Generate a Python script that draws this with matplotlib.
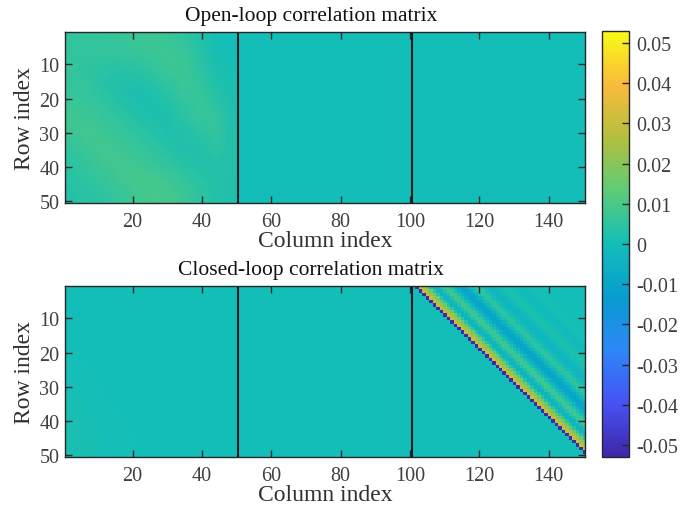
import numpy as np
import matplotlib
matplotlib.use("Agg")
import matplotlib.pyplot as plt
from matplotlib.colors import LinearSegmentedColormap

plt.rcParams['font.family'] = ['Liberation Serif', 'DejaVu Serif']
plt.rcParams['axes.unicode_minus'] = False

parula = LinearSegmentedColormap.from_list("parula", [
    (0.2422, 0.1504, 0.6603), (0.2810, 0.3228, 0.9579), (0.1786, 0.5289, 0.9682),
    (0.0265, 0.6137, 0.8135), (0.0704, 0.7457, 0.7258), (0.3633, 0.8000, 0.4700),
    (0.7000, 0.7500, 0.2400), (0.9800, 0.7300, 0.2400), (0.9769, 0.9839, 0.0805)])

n_rows = 50
n_cols = 150
background = 0.0003
color_limit = 0.053
cbar_ticks = [0.05, 0.04, 0.03, 0.02, 0.01, 0, -0.01, -0.02, -0.03, -0.04, -0.05]
cbar_labels = ['0.05', '0.04', '0.03', '0.02', '0.01', '0', '-0.01', '-0.02', '-0.03', '-0.04', '-0.05']

# open loop, first block, read on a coarse grid (rows down, columns across)
open_block = [
    [.0055, .0055, .0060, .0065, .0070, .0075, .0070, .0055, .0030, .0008, .0003],
    [.0055, .0055, .0055, .0055, .0060, .0070, .0080, .0070, .0040, .0012, .0005],
    [.0055, .0050, .0040, .0036, .0040, .0050, .0070, .0075, .0050, .0022, .0010],
    [.0060, .0055, .0036, .0025, .0022, .0030, .0050, .0070, .0060, .0030, .0015],
    [.0068, .0062, .0050, .0032, .0020, .0018, .0030, .0055, .0068, .0045, .0020],
    [.0080, .0075, .0062, .0050, .0032, .0020, .0022, .0040, .0062, .0060, .0025],
    [.0075, .0085, .0075, .0062, .0050, .0035, .0022, .0026, .0045, .0055, .0030],
    [.0058, .0075, .0085, .0075, .0066, .0050, .0036, .0025, .0028, .0045, .0032],
    [.0045, .0062, .0080, .0088, .0080, .0066, .0054, .0036, .0028, .0032, .0032],
    [.0040, .0050, .0062, .0080, .0092, .0090, .0076, .0058, .0040, .0032, .0028],
    [.0036, .0040, .0050, .0062, .0080, .0092, .0090, .0072, .0050, .0032, .0024],
]

# closed loop, first block, faint corner at lower left
closed_block = [
    [.0003, .0003, .0003, .0003, .0003, .0003],
    [.0003, .0003, .0003, .0003, .0003, .0003],
    [.0004, .0003, .0003, .0003, .0003, .0003],
    [.0006, .0003, .0003, .0003, .0003, .0003],
    [.0012, .0005, .0003, .0003, .0003, .0003],
    [.0014, .0006, .0004, .0004, .0004, .0004],
]

# closed loop, third block, value by distance above the main diagonal
lag_values = [0.0003, -0.052, 0.030, 0.024, 0.015, 0.004, -0.004, -0.003, 0.003, 0.008,
              0.007, 0.002, -0.004, -0.009, -0.010, -0.008, -0.003, 0.002, 0.005, 0.004,
              0.001, -0.002, -0.003, -0.003, -0.001, 0.001, 0.002, 0.002, 0.001, 0.0,
              -0.001, -0.001, -0.001, 0.0, 0.001, 0.001]


def closed_third_block():
    block = np.full((n_rows, n_cols - 100), background)
    for r in range(n_rows):
        for c in range(n_cols - 100):
            lag = c - r
            if 0 <= lag < len(lag_values):
                block[r, c] = lag_values[lag]
    return block


fig = plt.figure(figsize=(6.91, 5.06), dpi=100)
ax1 = fig.add_axes([65 / 691, 1 - 204 / 506, 520 / 691, 171 / 506])
ax2 = fig.add_axes([65 / 691, 1 - 458 / 506, 520 / 691, 171 / 506])
cax = fig.add_axes([602 / 691, 1 - 458 / 506, 27 / 691, 426 / 506])

kw = dict(cmap=parula, vmin=-color_limit, vmax=color_limit, aspect='auto')
base = np.full((n_rows, n_cols), background)

im = ax1.imshow(base, extent=(0.5, 150.5, 50.5, 0.5), interpolation='nearest', **kw)
ax1.imshow(open_block, extent=(0.5, 50.5, 50.5, 0.5), interpolation='bilinear', **kw)

ax2.imshow(base, extent=(0.5, 150.5, 50.5, 0.5), interpolation='nearest', **kw)
ax2.imshow(closed_block, extent=(0.5, 50.5, 50.5, 0.5), interpolation='bilinear', **kw)
ax2.imshow(closed_third_block(), extent=(100.5, 150.5, 50.5, 0.5), interpolation='nearest', **kw)

titles = ['Open-loop correlation matrix', 'Closed-loop correlation matrix']
for ax, title in zip([ax1, ax2], titles):
    ax.set_xlim(0.5, 150.5)
    ax.set_ylim(50.5, 0.5)
    ax.axvline(50.5, color='#0a1a20', lw=1.5)
    ax.axvline(100.5, color='#0a1a20', lw=1.5)
    ax.set_xticks(range(20, 141, 20))
    ax.set_yticks(range(10, 51, 10))
    ax.tick_params(direction='in', top=True, right=True, length=5, width=1,
                   color='#262626', labelcolor='#404040', labelsize=14.5)
    ax.tick_params(axis='x', pad=6.5)
    ax.tick_params(axis='y', pad=4)
    for s in ax.spines.values():
        s.set_color('#262626')
        s.set_linewidth(1)
    ax.set_title(title, fontsize=15.5, color='#111111', x=0.473, pad=9)
    ax.set_xlabel('Column index', fontsize=17, color='#303030', labelpad=-0.5)
    ax.set_ylabel('Row index', fontsize=17, color='#303030', labelpad=3)

cb = fig.colorbar(im, cax=cax)
cb.set_ticks(cbar_ticks)
cb.set_ticklabels(cbar_labels)
cb.ax.tick_params(direction='in', length=5, width=1, color='#262626',
                  labelcolor='#404040', labelsize=14.5, pad=5)
cb.outline.set_edgecolor('#262626')
cb.outline.set_linewidth(1)

fig.savefig('out.png', dpi=100)
